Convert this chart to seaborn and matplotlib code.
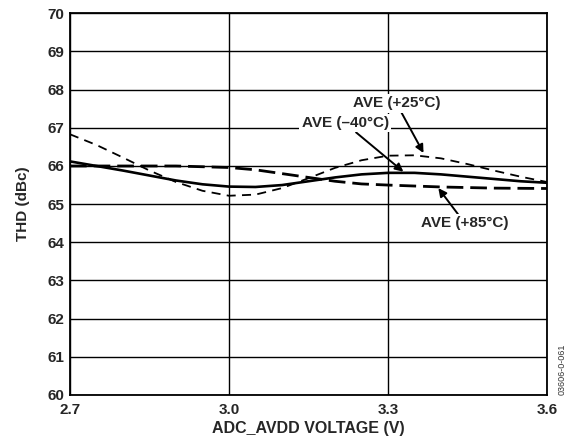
import numpy as np
import pandas as pd
import matplotlib
matplotlib.use('Agg')
import matplotlib.pyplot as plt
import seaborn as sns

# values
volts_m40 = [2.70, 2.75, 2.80, 2.85, 2.90, 2.95, 3.00, 3.05, 3.10, 3.15,
             3.20, 3.25, 3.30, 3.35, 3.40, 3.45, 3.50, 3.55, 3.60]
thd_m40 = [66.12, 66.00, 65.88, 65.75, 65.62, 65.52, 65.46, 65.45, 65.50, 65.60,
           65.70, 65.78, 65.82, 65.82, 65.78, 65.72, 65.66, 65.60, 65.56]

volts_p25 = [2.70, 2.75, 2.80, 2.85, 2.90, 2.95, 3.00, 3.05, 3.10, 3.15,
             3.20, 3.25, 3.30, 3.35, 3.40, 3.45, 3.50, 3.55, 3.60]
thd_p25 = [66.83, 66.55, 66.22, 65.88, 65.58, 65.35, 65.22, 65.25, 65.42, 65.68,
           65.95, 66.15, 66.27, 66.28, 66.20, 66.05, 65.88, 65.72, 65.58]

volts_p85 = [2.70, 2.80, 2.90, 3.00, 3.05, 3.10, 3.15, 3.20, 3.25, 3.30,
             3.40, 3.50, 3.60]
thd_p85 = [66.00, 66.00, 66.00, 65.96, 65.90, 65.80, 65.70, 65.60, 65.53, 65.50,
           65.45, 65.42, 65.41]

x_ticks = [2.7, 3.0, 3.3, 3.6]
x_tick_labels = ['2.7', '3.0', '3.3', '3.6']
y_ticks = list(range(60, 71))

sns.set_style('white')
plt.rcParams['font.family'] = ['Liberation Sans', 'DejaVu Sans']
plt.rcParams['font.weight'] = 'bold'

fig = plt.figure(figsize=(5.66, 4.44), dpi=100)
ax = fig.add_axes([0.1237, 0.1104, 0.8427, 0.8596])

df_m40 = pd.DataFrame({'V': volts_m40, 'THD': thd_m40})
df_p25 = pd.DataFrame({'V': volts_p25, 'THD': thd_p25})
df_p85 = pd.DataFrame({'V': volts_p85, 'THD': thd_p85})

sns.lineplot(data=df_p25, x='V', y='THD', ax=ax, color='black', lw=1.3,
             zorder=3).lines[-1].set_dashes([5, 3.5])
sns.lineplot(data=df_p85, x='V', y='THD', ax=ax, color='black', lw=2.0,
             zorder=3).lines[-1].set_dashes([6, 2.5])
sns.lineplot(data=df_m40, x='V', y='THD', ax=ax, color='black', lw=1.9,
             zorder=4)

ax.set_xlim(2.7, 3.6)
ax.set_ylim(60, 70)
ax.set_xticks(x_ticks)
ax.set_xticklabels(x_tick_labels)
ax.set_yticks(y_ticks)
ax.grid(True, color='black', lw=1.0)
ax.set_axisbelow(True)
for s in ax.spines.values():
    s.set_color('black')
    s.set_linewidth(1.3)
ax.tick_params(axis='x', length=0, labelsize=11, pad=6)
ax.tick_params(axis='y', length=0, labelsize=11, pad=4)
for lab in ax.get_xticklabels() + ax.get_yticklabels():
    lab.set_fontweight('bold')

ax.set_xlabel('ADC_AVDD VOLTAGE (V)', fontsize=11.5, fontweight='bold', labelpad=3)
ax.set_ylabel('THD (dBc)', fontsize=11, fontweight='bold', labelpad=13)

box = dict(facecolor='white', edgecolor='none', pad=1.5)
arrow = dict(arrowstyle='-|>', color='black', lw=1.4, mutation_scale=12,
             shrinkA=0, shrinkB=0)
ax.annotate('AVE (+25°C)', xy=(3.367, 66.34), xytext=(3.316, 67.64),
            ha='center', va='center', fontsize=11, fontweight='bold',
            bbox=box, arrowprops=arrow, zorder=5)
ax.annotate('AVE (–40°C)', xy=(3.329, 65.85), xytext=(3.219, 67.12),
            ha='center', va='center', fontsize=11, fontweight='bold',
            bbox=box, arrowprops=arrow, zorder=5)
ax.annotate('AVE (+85°C)', xy=(3.395, 65.42), xytext=(3.445, 64.50),
            ha='center', va='center', fontsize=11, fontweight='bold',
            bbox=box, arrowprops=arrow, zorder=5)

fig.text(0.993, 0.11, '03606-0-061', rotation=90, fontsize=6.5,
         fontweight='normal', color='#333333', ha='center', va='bottom')

fig.savefig('out.png', dpi=100)
